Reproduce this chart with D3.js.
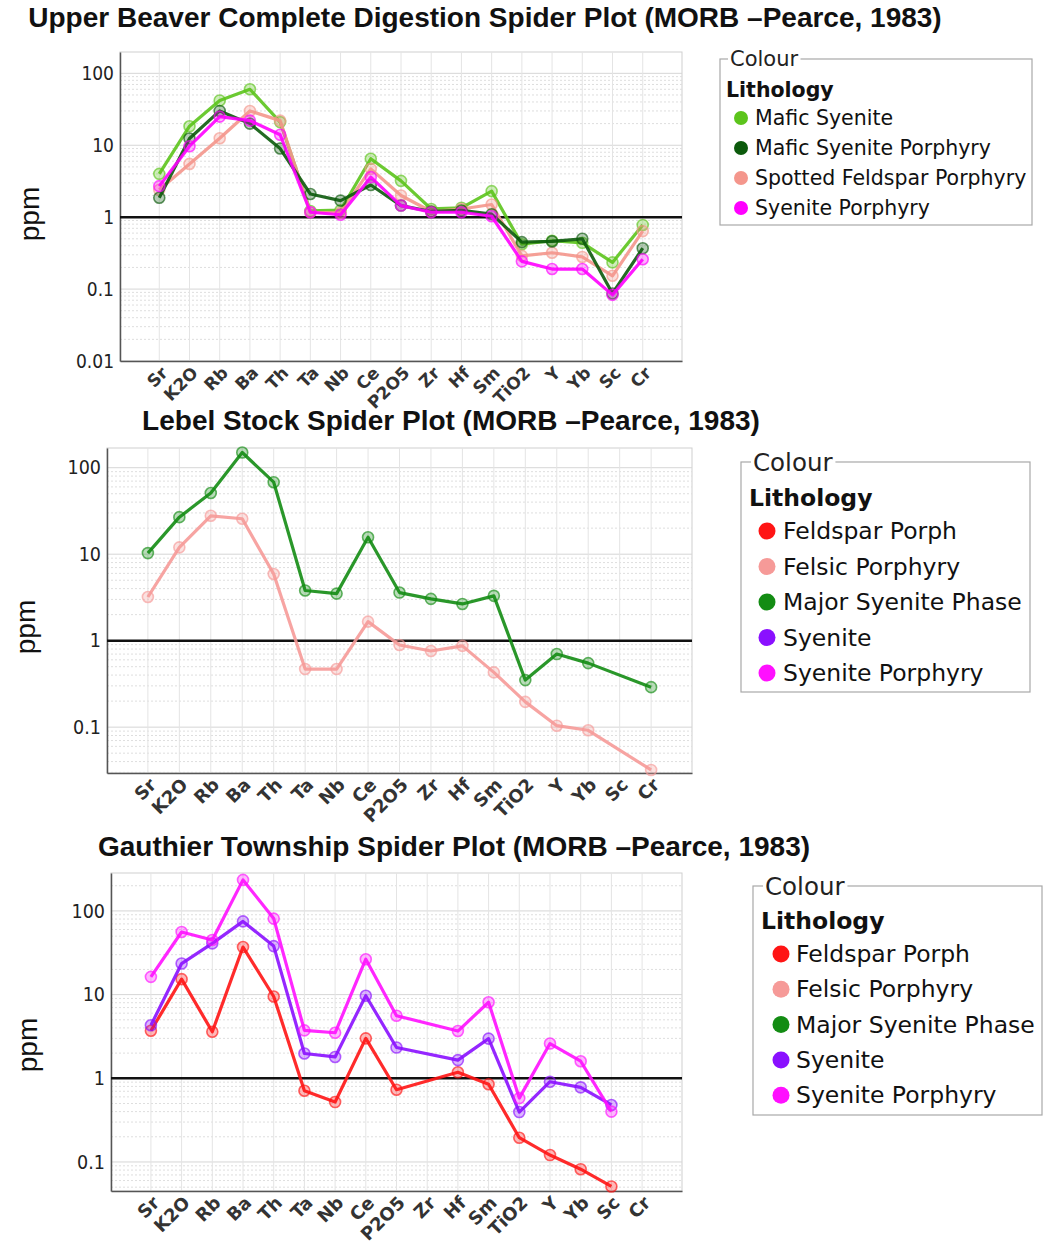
<!DOCTYPE html>
<html>
<head>
<meta charset="utf-8">
<script src="https://cdn.jsdelivr.net/npm/d3@7"></script>
<style>
  html, body { margin: 0; padding: 0; background: #fff; }
  svg { display: block; }
</style>
</head>
<body>
<svg id="chart" width="1044" height="1247"></svg>
<script>
// ---------- DATA ----------
const elements = ["Sr","K2O","Rb","Ba","Th","Ta","Nb","Ce","P2O5","Zr","Hf","Sm","TiO2","Y","Yb","Sc","Cr"];
const yTickValues = [100, 10, 1, 0.1, 0.01];
const legendTitle = "Colour";
const legendSubtitle = "Lithology";

// Panel 1: Upper Beaver
const ubTitle = "Upper Beaver Complete Digestion Spider Plot (MORB \u2013Pearce, 1983)";
const ubNames = ["Mafic Syenite", "Mafic Syenite Porphyry", "Spotted Feldspar Porphyry", "Syenite Porphyry"];
const ubColors = ["#5cc41c", "#0c5a0c", "#f4968c", "#ff00ff"];
const ubMaficSyenite      = [4.0, 18.4, 42, 60, 21, 1.22, 1.25, 6.5, 3.2, 1.3, 1.35, 2.3, 0.42, 0.47, 0.44, 0.235, 0.78];
const ubMaficSyenitePorph = [1.86, 12.4, 30, 20, 9, 2.1, 1.7, 2.8, 1.45, 1.2, 1.24, 1.1, 0.45, 0.46, 0.5, 0.087, 0.37];
const ubSpottedFeldspar   = [2.4, 5.5, 12.5, 30, 22, 1.17, 1.15, 4.7, 2.0, 1.2, 1.3, 1.5, 0.29, 0.32, 0.28, 0.153, 0.64];
const ubSyenitePorphyry   = [2.7, 9.7, 25, 22, 14, 1.17, 1.08, 3.6, 1.45, 1.17, 1.17, 1.03, 0.243, 0.19, 0.19, 0.083, 0.26];

// Panel 2: Lebel Stock
const lsTitle = "Lebel Stock Spider Plot (MORB \u2013Pearce, 1983)";
const lsLegendNames = ["Feldspar Porph", "Felsic Porphyry", "Major Syenite Phase", "Syenite", "Syenite Porphyry"];
const lsLegendColors = ["#ff1414", "#f69a98", "#138c13", "#8a10ff", "#ff10ff"];
const lsFelsicPorphyry  = [3.2, 12, 27.8, 25.7, 5.9, 0.47, 0.47, 1.66, 0.89, 0.76, 0.87, 0.43, 0.196, 0.104, 0.092, null, 0.032];
const lsMajorSyenite    = [10.3, 26.8, 51, 150, 68, 3.8, 3.5, 15.7, 3.6, 3.04, 2.66, 3.3, 0.35, 0.70, 0.55, null, 0.29];

// Panel 3: Gauthier Township
const gtTitle = "Gauthier Township Spider Plot (MORB \u2013Pearce, 1983)";
const gtFeldsparPorph  = [3.7, 15.3, 3.6, 37, 9.5, 0.71, 0.52, 3.0, 0.73, null, 1.18, 0.85, 0.195, 0.121, 0.082, 0.051, null];
const gtSyenite        = [4.3, 23.5, 41, 75, 38, 1.98, 1.8, 9.7, 2.33, null, 1.65, 2.98, 0.395, 0.91, 0.78, 0.48, null];
const gtSyenitePorph   = [16.3, 56, 45, 235, 81, 3.74, 3.5, 26.5, 5.6, null, 3.67, 8.1, 0.58, 2.6, 1.6, 0.40, null];

// ---------- DRAWING ----------
const svg = d3.select("#chart");

function drawPanel(cfg) {
  const g = svg.append("g");
  const x = d3.scalePoint().domain(elements).range([cfg.left, cfg.right]).padding(1.3);
  const y = d3.scaleLog().domain(cfg.yDomain).range([cfg.bottom, cfg.top]);

  // title
  g.append("text")
    .attr("x", cfg.titleX).attr("y", cfg.titleY)
    .attr("text-anchor", "middle")
    .style("font-family", "'Liberation Sans', Arial, sans-serif")
    .style("font-weight", "bold")
    .style("font-size", cfg.titleSize + "px")
    .attr("fill", "#111")
    .text(cfg.title);

  // background
  g.append("rect")
    .attr("x", cfg.left).attr("y", cfg.top)
    .attr("width", cfg.right - cfg.left).attr("height", cfg.bottom - cfg.top)
    .attr("fill", "#fff").attr("stroke", "#cfcfcf").attr("stroke-width", 1);

  // grid
  const lo = Math.floor(Math.log10(cfg.yDomain[0])), hi = Math.ceil(Math.log10(cfg.yDomain[1]));
  const minor = [], major = [];
  for (let e = lo; e <= hi; e++) {
    for (let k = 1; k <= 9; k++) {
      const v = k * Math.pow(10, e);
      if (v < cfg.yDomain[0] * 0.999 || v > cfg.yDomain[1]) continue;
      (k === 1 ? major : minor).push(v);
    }
  }
  g.append("g").selectAll("line").data(minor).join("line")
    .attr("x1", cfg.left).attr("x2", cfg.right)
    .attr("y1", d => y(d)).attr("y2", d => y(d))
    .attr("stroke", "#dedede").attr("stroke-width", 1).attr("stroke-dasharray", "2,2");
  g.append("g").selectAll("line").data(major).join("line")
    .attr("x1", cfg.left).attr("x2", cfg.right)
    .attr("y1", d => y(d)).attr("y2", d => y(d))
    .attr("stroke", "#d6d6d6").attr("stroke-width", 1);
  g.append("g").selectAll("line").data(elements).join("line")
    .attr("x1", d => x(d)).attr("x2", d => x(d))
    .attr("y1", cfg.top).attr("y2", cfg.bottom)
    .attr("stroke", "#e4e4e4").attr("stroke-width", 1);

  // axes
  const yAxis = d3.axisLeft(y).tickValues(yTickValues.filter(v => v >= cfg.yDomain[0] * 0.999 && v <= cfg.yDomain[1]))
    .tickFormat(d => String(d)).tickSize(0).tickPadding(6);
  const ya = g.append("g").attr("transform", `translate(${cfg.left},0)`).call(yAxis);
  ya.select(".domain").attr("stroke", "#555").attr("stroke-width", 1.5);
  ya.selectAll("text")
    .style("font-family", "'DejaVu Sans Condensed', 'DejaVu Sans', sans-serif")
    .style("font-size", cfg.yTickSize + "px")
    .attr("fill", "#222");

  const xAxis = d3.axisBottom(x).tickSize(0).tickPadding(0);
  const xa = g.append("g").attr("transform", `translate(0,${cfg.bottom})`).call(xAxis);
  xa.select(".domain").attr("stroke", "#555").attr("stroke-width", 1.5);
  xa.selectAll("text")
    .attr("text-anchor", "end")
    .attr("dy", null)
    .attr("y", 0)
    .attr("transform", "translate(9,13) rotate(-45)")
    .style("font-family", "'DejaVu Sans', Verdana, sans-serif")
    .style("font-weight", "bold")
    .style("font-size", cfg.xTickSize + "px")
    .attr("fill", "#333");

  // ppm label
  g.append("text")
    .attr("transform", `translate(${cfg.ppmX},${cfg.ppmY}) rotate(-90)`)
    .attr("text-anchor", "middle")
    .attr("dominant-baseline", "middle")
    .style("font-family", "'Liberation Sans', Arial, sans-serif")
    .style("font-size", "28px")
    .attr("fill", "#111")
    .text("ppm");

  // reference line at 1
  g.append("line")
    .attr("x1", cfg.left).attr("x2", cfg.right)
    .attr("y1", y(1)).attr("y2", y(1))
    .attr("stroke", "#111").attr("stroke-width", 2.5);

  // series
  const line = d3.line().x(d => x(d.k)).y(d => y(d.v));
  cfg.series.forEach(s => {
    const pts = elements.map((k, i) => ({ k, v: s.values[i] })).filter(d => d.v != null);
    const sg = g.append("g");
    sg.append("path").datum(pts)
      .attr("d", line)
      .attr("fill", "none")
      .attr("stroke", s.color)
      .attr("stroke-width", 3.2)
      .attr("stroke-linejoin", "round")
      .attr("stroke-opacity", 0.9);
    sg.selectAll("circle").data(pts).join("circle")
      .attr("cx", d => x(d.k)).attr("cy", d => y(d.v)).attr("r", 5.5)
      .attr("fill", s.color).attr("fill-opacity", 0.3)
      .attr("stroke", s.color).attr("stroke-opacity", 0.65).attr("stroke-width", 1.6);
  });

  // legend
  const L = cfg.legend;
  const lg = g.append("g");
  lg.append("rect")
    .attr("x", L.x).attr("y", L.y).attr("width", L.w).attr("height", L.h)
    .attr("fill", "#fff").attr("stroke", "#a8a8a8").attr("stroke-width", 1.2);
  const ct = lg.append("text")
    .attr("x", L.x + L.titleDx).attr("y", L.y)
    .attr("dominant-baseline", "central")
    .style("font-family", "'DejaVu Sans', sans-serif")
    .style("font-size", L.tfs + "px")
    .attr("fill", "#222")
    .text(legendTitle);
  const bb = ct.node().getBBox();
  lg.insert("rect", "text")
    .attr("x", bb.x - 2).attr("y", L.y - 3).attr("width", bb.width + 4).attr("height", 6)
    .attr("fill", "#fff");
  lg.append("text")
    .attr("x", L.x + L.subDx).attr("y", L.subY)
    .attr("dominant-baseline", "central")
    .style("font-family", "'DejaVu Sans', sans-serif")
    .style("font-weight", "bold")
    .style("font-size", L.fs + "px")
    .attr("fill", "#111")
    .text(legendSubtitle);
  L.names.forEach((n, i) => {
    const cy = L.itemY + i * L.step;
    lg.append("circle").attr("cx", L.cx).attr("cy", cy).attr("r", L.r).attr("fill", L.colors[i]);
    lg.append("text")
      .attr("x", L.tx).attr("y", cy)
      .attr("dominant-baseline", "central")
      .style("font-family", "'DejaVu Sans', sans-serif")
      .style("font-size", L.fs + "px")
      .attr("fill", "#111")
      .text(n);
  });
}

drawPanel({
  title: ubTitle, titleX: 485, titleY: 27, titleSize: 28,
  left: 120, right: 682, top: 52, bottom: 361, yDomain: [0.01, 198],
  yTickSize: 19, xTickSize: 17, ppmX: 32, ppmY: 214,
  series: [
    { values: ubMaficSyenite, color: ubColors[0] },
    { values: ubSpottedFeldspar, color: ubColors[2] },
    { values: ubMaficSyenitePorph, color: ubColors[1] },
    { values: ubSyenitePorphyry, color: ubColors[3] }
  ],
  legend: { x: 720, y: 59, w: 312, h: 166, titleDx: 10, subDx: 6, subY: 90, fs: 20.5, tfs: 21,
            names: ubNames, colors: ubColors, itemY: 118, step: 30, cx: 741, r: 7, tx: 755 }
});

drawPanel({
  title: lsTitle, titleX: 451, titleY: 430, titleSize: 28,
  left: 107, right: 692, top: 448, bottom: 773, yDomain: [0.0295, 169],
  yTickSize: 19.5, xTickSize: 18, ppmX: 28, ppmY: 627,
  series: [
    { values: lsFelsicPorphyry, color: lsLegendColors[1] },
    { values: lsMajorSyenite, color: lsLegendColors[2] }
  ],
  legend: { x: 741, y: 462, w: 289, h: 230, titleDx: 12, subDx: 8, subY: 498, fs: 23.5, tfs: 24.5,
            names: lsLegendNames, colors: lsLegendColors, itemY: 531, step: 35.5, cx: 767, r: 8.5, tx: 783 }
});

drawPanel({
  title: gtTitle, titleX: 454, titleY: 856, titleSize: 28,
  left: 111, right: 682, top: 873, bottom: 1191, yDomain: [0.045, 284],
  yTickSize: 19.5, xTickSize: 18, ppmX: 30, ppmY: 1045,
  series: [
    { values: gtFeldsparPorph, color: lsLegendColors[0] },
    { values: gtSyenite, color: lsLegendColors[3] },
    { values: gtSyenitePorph, color: lsLegendColors[4] }
  ],
  legend: { x: 753, y: 886, w: 289, h: 229, titleDx: 12, subDx: 8, subY: 921, fs: 23.5, tfs: 24.5,
            names: lsLegendNames, colors: lsLegendColors, itemY: 954, step: 35.3, cx: 781, r: 8.5, tx: 796 }
});
</script>
</body>
</html>
